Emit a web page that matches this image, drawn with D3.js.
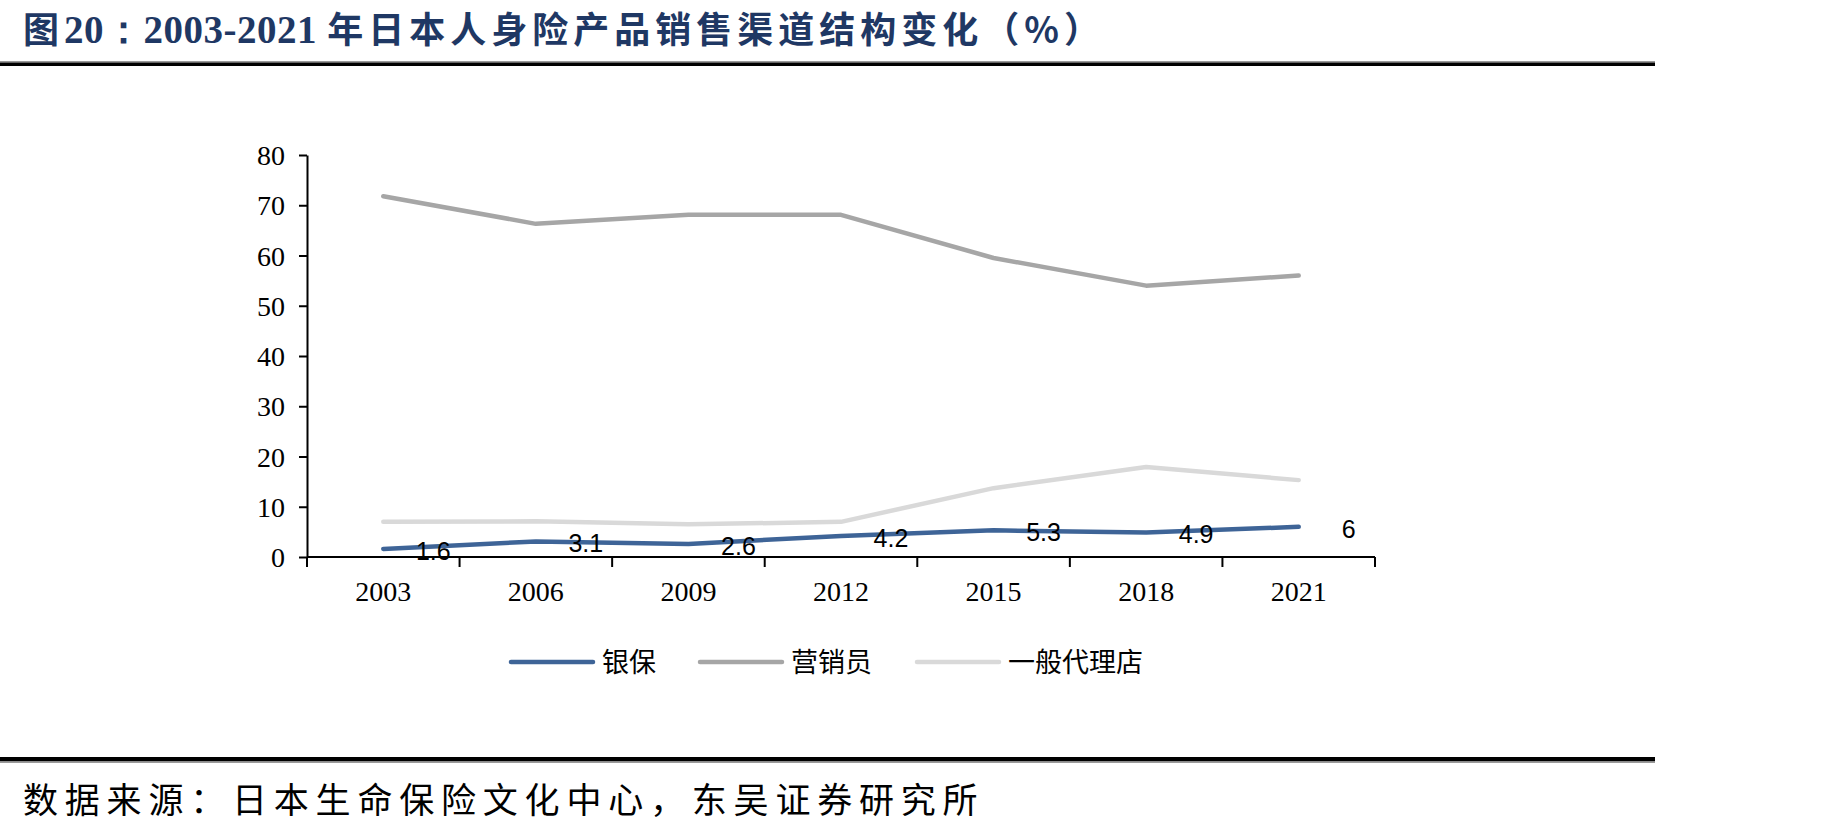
<!DOCTYPE html>
<html>
<head>
<meta charset="utf-8">
<script src="https://cdn.jsdelivr.net/npm/d3@7"></script>
<style>
  body { margin: 0; background: #fff; }
</style>
</head>
<body>
<div id="chart"></div>
<script>
// data
const years = ["2003", "2006", "2009", "2012", "2015", "2018", "2021"];
const bankInsurance = [1.6, 3.1, 2.6, 4.2, 5.3, 4.9, 6];
const salesAgents = [71.8, 66.3, 68.1, 68.1, 59.5, 54.0, 56.0];
const generalAgency = [7.0, 7.1, 6.5, 7.0, 13.7, 17.9, 15.3];
const seriesNames = ["银保", "营销员", "一般代理店"];
const yTicks = [0, 10, 20, 30, 40, 50, 60, 70, 80];

// title pieces: [text, is CJK]
const titleParts = [["图", true], ["20：", false], ["2003-2021 ", false], ["年日本人身险产品销售渠道结构变化", true], ["（%）", true]];
const sourceText = "数据来源：日本生命保险文化中心，东吴证券研究所";

const colors = ["#3e6497", "#a6a6a6", "#d9d9d9"];

const width = 1830;
const height = 833;
const margin = { top: 155, bottom: 276, left: 307, right: 455 };

const svg = d3.select("#chart")
    .append("svg")
    .attr("width", width)
    .attr("height", height);

svg.append("rect").attr("width", width).attr("height", height).attr("fill", "#fff");

// title
svg.append("text")
    .attr("x", 23)
    .attr("y", 43)
    .attr("font-weight", "bold")
    .attr("fill", "#1f3864")
    .selectAll("tspan")
    .data(titleParts)
    .join("tspan")
    .attr("font-family", d => d[1] ? "'Noto Sans CJK SC', sans-serif" : "'Liberation Serif', serif")
    .attr("font-size", d => d[1] ? 36 : 39)
    .attr("letter-spacing", d => d[1] ? 5 : 0.5)
    .text(d => d[0]);

// rules under the title and above the source
svg.append("rect").attr("x", 0).attr("y", 61).attr("width", 1655).attr("height", 1.5).attr("fill", "#9a9a9a");
svg.append("rect").attr("x", 0).attr("y", 62.5).attr("width", 1655).attr("height", 3.5).attr("fill", "#000");
svg.append("rect").attr("x", 0).attr("y", 757).attr("width", 1655).attr("height", 4.5).attr("fill", "#000");
svg.append("rect").attr("x", 0).attr("y", 761.5).attr("width", 1655).attr("height", 1.5).attr("fill", "#9a9a9a");

svg.append("text")
    .attr("x", 23)
    .attr("y", 813)
    .attr("font-family", "'Noto Sans CJK SC', sans-serif")
    .attr("font-size", 35)
    .attr("letter-spacing", 6.8)
    .attr("fill", "#000")
    .text(sourceText);

const x = d3.scaleBand()
    .domain(years)
    .range([margin.left, width - margin.right])
    .padding(0);

const y = d3.scaleLinear()
    .domain([0, 80])
    .range([height - margin.bottom, margin.top]);

const cx = d => x(d) + x.bandwidth() / 2;

// axes
function xAxis(g) {
    g.attr("transform", `translate(0, ${y(0)})`);
    g.append("line")
        .attr("x1", margin.left).attr("x2", width - margin.right)
        .attr("stroke", "#000").attr("stroke-width", 2);
    const edges = years.map(d => x(d)).concat([width - margin.right]);
    g.selectAll("line.tick")
        .data(edges)
        .join("line")
        .attr("class", "tick")
        .attr("x1", d => d).attr("x2", d => d)
        .attr("y1", 0).attr("y2", 10)
        .attr("stroke", "#000").attr("stroke-width", 2);
    g.selectAll("text")
        .data(years)
        .join("text")
        .attr("x", d => cx(d))
        .attr("y", 44)
        .attr("text-anchor", "middle")
        .attr("font-family", "'Liberation Serif', serif")
        .attr("font-size", 28)
        .text(d => d);
}

function yAxis(g) {
    g.attr("transform", `translate(${margin.left}, 0)`)
        .call(d3.axisLeft(y).tickValues(yTicks).tickSize(8).tickPadding(14).tickSizeOuter(0))
        .attr("font-family", "'Liberation Serif', serif")
        .attr("font-size", 28);
    g.select(".domain").attr("stroke", "#000").attr("stroke-width", 2);
    g.selectAll(".tick line").attr("stroke", "#000").attr("stroke-width", 2);
    g.selectAll(".tick text").attr("fill", "#000").attr("dy", "0.34em");
}

const allSeries = [generalAgency, salesAgents, bankInsurance];
const seriesColors = [colors[2], colors[1], colors[0]];

const line = d3.line()
    .x((d, i) => cx(years[i]))
    .y(d => y(d));

svg.append("g")
    .selectAll("path")
    .data(allSeries)
    .join("path")
    .attr("d", d => line(d))
    .attr("fill", "none")
    .attr("stroke", (d, i) => seriesColors[i])
    .attr("stroke-width", 4.5)
    .attr("stroke-linejoin", "round")
    .attr("stroke-linecap", "round");

svg.append("g").call(yAxis);
svg.append("g").call(xAxis);

// data labels for 银保
svg.append("g")
    .selectAll("text")
    .data(bankInsurance)
    .join("text")
    .attr("x", (d, i) => cx(years[i]) + 50)
    .attr("y", d => y(d) + 2)
    .attr("dy", "0.35em")
    .attr("text-anchor", "middle")
    .attr("font-family", "'Liberation Sans', sans-serif")
    .attr("font-size", 25)
    .attr("fill", "#000")
    .text(d => d);

// legend
const legendX = [511, 700, 917];
const legend = svg.append("g")
    .selectAll("g")
    .data(seriesNames)
    .join("g")
    .attr("transform", (d, i) => `translate(${legendX[i]}, 662)`);

legend.append("line")
    .attr("x1", 0).attr("x2", 82)
    .attr("stroke", (d, i) => colors[i])
    .attr("stroke-width", 4.5)
    .attr("stroke-linecap", "round");

legend.append("text")
    .attr("x", 91)
    .attr("dy", "0.36em")
    .attr("font-family", "'Noto Sans CJK SC', sans-serif")
    .attr("font-size", 27)
    .attr("fill", "#000")
    .text(d => d);
</script>
</body>
</html>
